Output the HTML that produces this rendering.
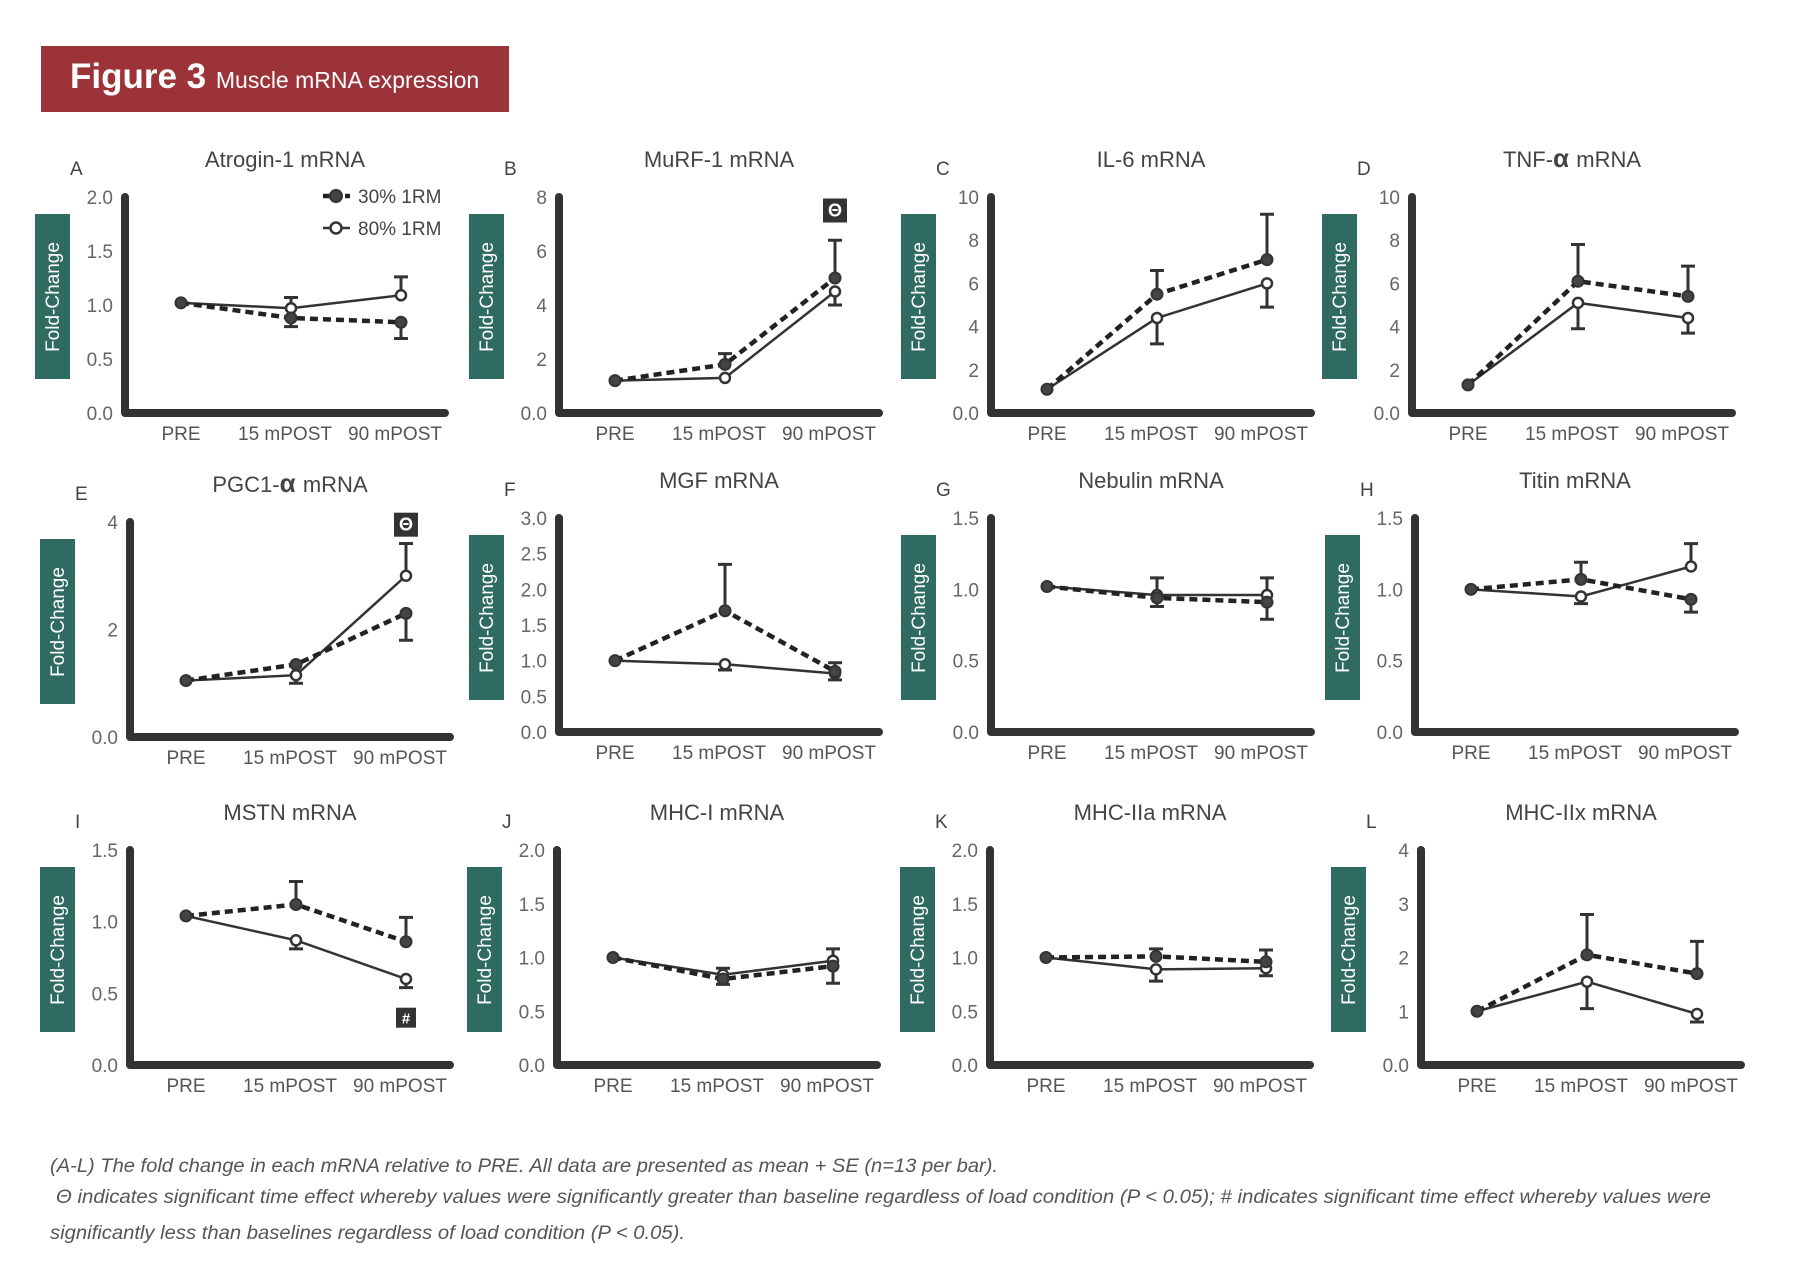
<!DOCTYPE html>
<html><head><meta charset="utf-8"><style>
html,body{margin:0;padding:0;background:#fff;}
svg{display:block;font-family:"Liberation Sans",sans-serif;}
</style></head><body>
<svg id="fig" width="1811" height="1263" viewBox="0 0 1811 1263" xmlns="http://www.w3.org/2000/svg">
<rect x="41" y="46" width="468" height="66" fill="#9b3339"/>
<text x="70" y="88" fill="#fff" font-size="35" font-weight="bold">Figure 3 <tspan font-size="23" font-weight="normal">Muscle mRNA expression</tspan></text>
<g fill="#555" font-size="19" font-style="italic">
<text x="50" y="1172" textLength="948" lengthAdjust="spacingAndGlyphs">(A-L) The fold change in each mRNA relative to PRE. All data are presented as mean + SE (n=13 per bar).</text>
<text x="56" y="1203" textLength="1655" lengthAdjust="spacingAndGlyphs">Θ  indicates significant time effect whereby values were significantly greater than baseline regardless of load condition (P &lt; 0.05); # indicates significant time effect whereby values were</text>
<text x="50" y="1239" textLength="635" lengthAdjust="spacingAndGlyphs">significantly less than baselines regardless of load condition (P &lt; 0.05).</text>
</g>
</svg>
<script>
const categories = ["PRE", "15 mPOST", "90 mPOST"];
const panelLetters = ["A","B","C","D","E","F","G","H","I","J","K","L"];
const panelTitles = ["Atrogin-1 mRNA","MuRF-1 mRNA","IL-6 mRNA","TNF-α mRNA","PGC1-α mRNA","MGF mRNA","Nebulin mRNA","Titin mRNA","MSTN mRNA","MHC-I mRNA","MHC-IIa mRNA","MHC-IIx mRNA"];
const yMax = [2,8,10,10,4,3,1.5,1.5,1.5,2,2,4];
const tickLabels = [
 ["0.0","0.5","1.0","1.5","2.0"],["0.0","2","4","6","8"],["0.0","2","4","6","8","10"],["0.0","2","4","6","8","10"],
 ["0.0","2","4"],["0.0","0.5","1.0","1.5","2.0","2.5","3.0"],["0.0","0.5","1.0","1.5"],["0.0","0.5","1.0","1.5"],
 ["0.0","0.5","1.0","1.5"],["0.0","0.5","1.0","1.5","2.0"],["0.0","0.5","1.0","1.5","2.0"],["0.0","1","2","3","4"]];
const load30 = [[1.02,0.88,0.84],[1.2,1.8,5.0],[1.1,5.5,7.1],[1.3,6.1,5.4],[1.05,1.35,2.3],[1.0,1.7,0.85],[1.02,0.94,0.91],[1.0,1.07,0.93],[1.04,1.12,0.86],[1.0,0.8,0.92],[1.0,1.01,0.96],[1.0,2.05,1.7]];
const load30Err = [[null,0.8,0.69],[null,2.2,6.4],[null,6.6,9.2],[null,7.8,6.8],[null,null,1.8],[null,2.35,0.97],[null,0.88,0.79],[null,1.19,0.84],[null,1.28,1.03],[null,0.75,0.76],[null,1.08,1.07],[null,2.8,2.3]];
const load80 = [[1.02,0.97,1.09],[1.2,1.3,4.5],[1.1,4.4,6.0],[1.3,5.1,4.4],[1.05,1.15,3.0],[1.0,0.95,0.82],[1.02,0.96,0.96],[1.0,0.95,1.16],[1.04,0.87,0.6],[1.0,0.84,0.97],[1.0,0.89,0.9],[1.0,1.55,0.95]];
const load80Err = [[null,1.07,1.26],[null,null,4.0],[null,3.2,4.9],[null,3.9,3.7],[null,1.0,3.6],[null,0.87,0.73],[null,1.08,1.08],[null,0.9,1.32],[null,0.81,0.54],[null,0.9,1.08],[null,0.78,0.83],[null,1.05,0.8]];
const sigMarks = [null,["Θ",7.5],null,null,["Θ",3.95],null,null,null,["#",0.33],null,null,null];

const NS="http://www.w3.org/2000/svg";
const svg=document.getElementById('fig');
function mk(tag,attrs,parent){const e=document.createElementNS(NS,tag);for(const k in attrs)e.setAttribute(k,attrs[k]);(parent||svg).appendChild(e);return e;}
const colX=[[125,559,991,1412],[130,559,991,1415],[130,557,990,1421]];
const rowTop=[[197,197,197,197],[522,518,518,518],[850,850,850,850]];
const rowBase=[[413,413,413,413],[737,732,732,732],[1065,1065,1065,1065]];
const AXW=320, offs=[56,166,276];

for(let p=0;p<12;p++){
 const r=Math.floor(p/4),c=p%4;
 const x0=colX[r][c],top=rowTop[r][c],base=rowBase[r][c];
 const g=mk('g',{});
 
 
 const ys=v=>base-(v/yMax[p])*(base-top);
 const xs=i=>x0+offs[i];
 const lt=mk('text',{x:x0-55,y:top-22,'font-size':19,fill:'#444'},g);lt.textContent=panelLetters[p];
 
 
 const tt=mk('text',{x:x0+160,y:top-30,'font-size':22,fill:'#444','text-anchor':'middle'},g);
 
 
 if(panelTitles[p].indexOf('α')>=0){
  const parts=panelTitles[p].split('α');
  const a=mk('tspan',{},tt);a.textContent=parts[0];
  const b=mk('tspan',{'font-weight':'bold','font-size':26},tt);b.textContent='α  ';
  const d=mk('tspan',{},tt);d.textContent=parts[1];
 } else tt.textContent=panelTitles[p];
 const bx=mk('rect',{x:x0-90,y:top+17,width:35,height:165,fill:'#2f6b60'},g);
 
 
 const yt=mk('text',{x:0,y:0,'font-size':19,fill:'#fff','text-anchor':'middle',transform:`translate(${x0-66},${top+100}) rotate(-90)`},g);
 yt.textContent='Fold-Change';
 
 
 const tl=tickLabels[p];
 tl.forEach((t,i)=>{
  const v=i*yMax[p]/(tl.length-1);
  const te=mk('text',{x:x0-12,y:ys(v)+7,'font-size':19,fill:'#666','text-anchor':'end'},g);te.textContent=t;
  
  
 });
 const ax=mk('path',{d:`M${x0},${top} L${x0},${base} L${x0+AXW},${base}`,fill:'none',stroke:'#333','stroke-width':8,'stroke-linecap':'round','stroke-linejoin':'round'},g);
 
 
 categories.forEach((cat,i)=>{
  const te=mk('text',{x:xs(i)+(i==0?0:-6),y:base+27,'font-size':19,fill:'#555','text-anchor':'middle'},g);te.textContent=cat;
  
  
 });
 [[load30,load30Err],[load80,load80Err]].forEach(([vals,errs],s)=>{
  for(let i=0;i<3;i++){const e=errs[p][i];if(e==null)continue;
   const eb=mk('path',{d:`M${xs(i)},${ys(vals[p][i])} L${xs(i)},${ys(e)} M${xs(i)-7},${ys(e)} L${xs(i)+7},${ys(e)}`,stroke:'#333','stroke-width':3,fill:'none'},g);
   
   
  }
 });
 const l80=mk('polyline',{points:load80[p].map((v,i)=>xs(i)+','+ys(v)).join(' '),fill:'none',stroke:'#333','stroke-width':2.5},g);
 
 
 const l30=mk('polyline',{points:load30[p].map((v,i)=>xs(i)+','+ys(v)).join(' '),fill:'none',stroke:'#222','stroke-width':4.5,'stroke-dasharray':'8 5'},g);
 
 
 for(let i=0;i<3;i++){
  const m1=mk('circle',{cx:xs(i),cy:ys(load80[p][i]),r:5,fill:'#fff',stroke:'#333','stroke-width':2.5},g);
  
  
  const m2=mk('circle',{cx:xs(i),cy:ys(load30[p][i]),r:5.5,fill:'#444',stroke:'#333','stroke-width':2},g);
  
  
 }
 if(sigMarks[p]){
  const [sym,v]=sigMarks[p];const sz=sym=='#'?20:24;
  const sr=mk('rect',{x:xs(2)-sz/2,y:ys(v)-sz/2,width:sz,height:sz,fill:'#333'},g);
  
  
  const st=mk('text',{x:xs(2),y:ys(v)+6,'font-size':sym=='#'?15:18,'font-weight':'bold',fill:'#fff','text-anchor':'middle'},g);st.textContent=sym;
  
  
 }
 if(p==0){
  const lg=mk('g',{},g);
  
  
  mk('line',{x1:323,y1:196,x2:350,y2:196,stroke:'#222','stroke-width':4.5,'stroke-dasharray':'8 3'},lg);
  mk('circle',{cx:336,cy:196,r:6,fill:'#444',stroke:'#333','stroke-width':2},lg);
  const a=mk('text',{x:358,y:203,'font-size':19,fill:'#444'},lg);a.textContent='30% 1RM';
  
  
  mk('line',{x1:323,y1:228,x2:350,y2:228,stroke:'#333','stroke-width':2.5},lg);
  mk('circle',{cx:336,cy:228,r:5.5,fill:'#fff',stroke:'#333','stroke-width':2.5},lg);
  const b=mk('text',{x:358,y:235,'font-size':19,fill:'#444'},lg);b.textContent='80% 1RM';
  
  
 }
}
</script>
</body></html>
